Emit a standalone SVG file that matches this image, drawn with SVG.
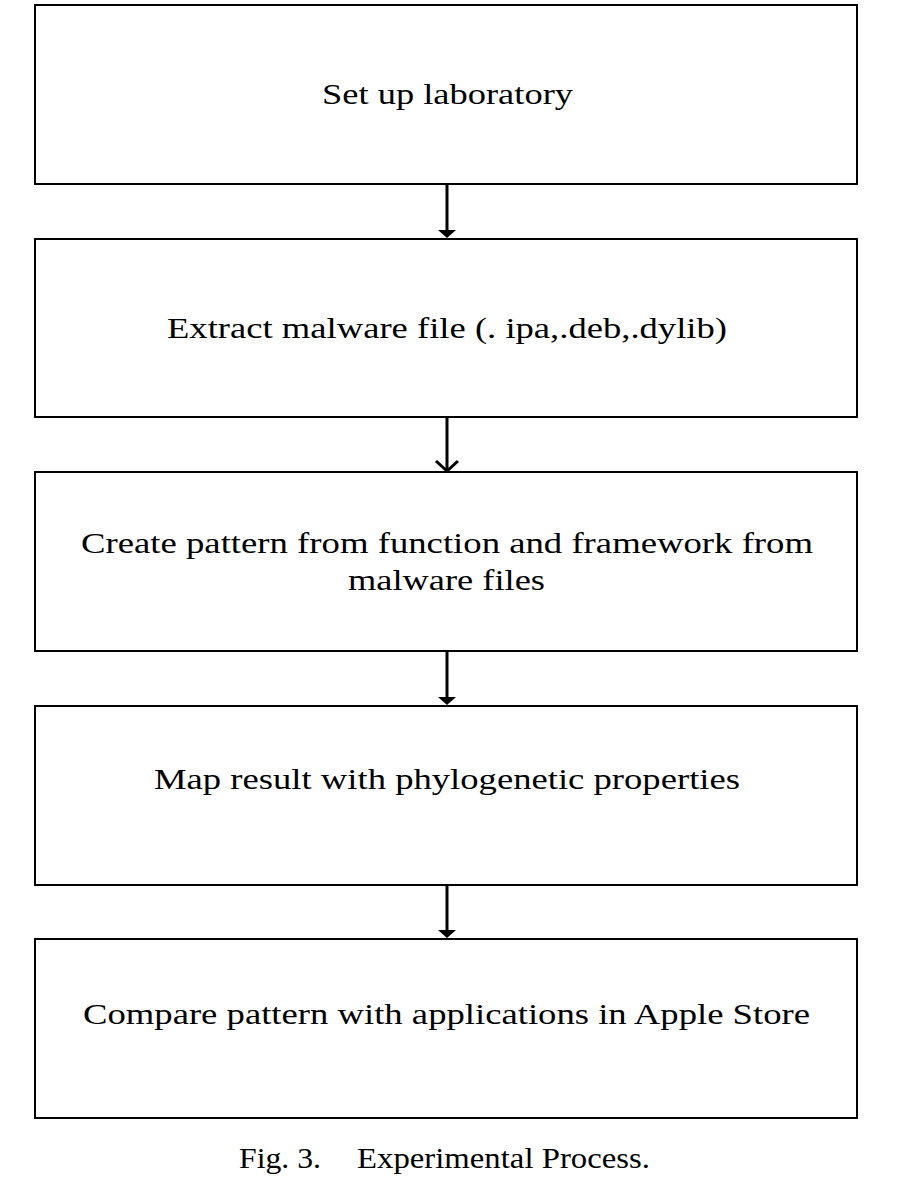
<svg xmlns="http://www.w3.org/2000/svg" width="902" height="1190" viewBox="0 0 902 1190">
<defs>
<style>
.box{fill:#fff;stroke:#000;stroke-width:2}
.t{font-family:"Liberation Serif","Times New Roman",serif;font-size:29px;fill:#000;text-anchor:middle}
.c{font-family:"Liberation Serif","Times New Roman",serif;font-size:30px;fill:#000}
.ln{stroke:#000;stroke-width:3;fill:none}
</style>
</defs>
<rect width="902" height="1190" fill="#fff"/>
<g id="n1"><rect class="box" x="35" y="5" width="822" height="179"/><text class="t" transform="translate(447.5,104) scale(1.25,1)" textLength="200.8" lengthAdjust="spacingAndGlyphs">Set up laboratory</text></g>
<g id="n2"><rect class="box" x="35" y="239" width="822" height="178"/><text class="t" transform="translate(447,338) scale(1.25,1)" textLength="448" lengthAdjust="spacingAndGlyphs">Extract malware file (. ipa,.deb,.dylib)</text></g>
<g id="n3"><rect class="box" x="35" y="472" width="822" height="179"/><text class="t" transform="translate(447,553) scale(1.25,1)" textLength="585.6" lengthAdjust="spacingAndGlyphs">Create pattern from function and framework from</text><text class="t" transform="translate(446.5,590) scale(1.25,1)" textLength="157.6" lengthAdjust="spacingAndGlyphs">malware files</text></g>
<g id="n4"><rect class="box" x="35" y="706" width="822" height="179"/><text class="t" transform="translate(447,789) scale(1.25,1)" textLength="468.8" lengthAdjust="spacingAndGlyphs">Map result with phylogenetic properties</text></g>
<g id="n5"><rect class="box" x="35" y="939" width="822" height="179"/><text class="t" transform="translate(446.5,1024) scale(1.25,1)" textLength="581.6" lengthAdjust="spacingAndGlyphs">Compare pattern with applications in Apple Store</text></g>
<g id="connectors">
<line class="ln" x1="447" y1="185" x2="447" y2="230"/><path d="M438,230 L456,230 L447,238 Z" fill="#000"/>
<line class="ln" x1="447" y1="418" x2="447" y2="470"/><path d="M436,461 L447,471 L458,461" class="ln" stroke-width="2"/>
<line class="ln" x1="447" y1="652" x2="447" y2="697"/><path d="M438,697 L456,697 L447,705 Z" fill="#000"/>
<line class="ln" x1="447" y1="886" x2="447" y2="930"/><path d="M438,930 L456,930 L447,938 Z" fill="#000"/>
</g>
<text class="c" x="239" y="1168" textLength="82" lengthAdjust="spacingAndGlyphs">Fig. 3.</text>
<text class="c" x="357" y="1168" textLength="293" lengthAdjust="spacingAndGlyphs">Experimental Process.</text>
</svg>
